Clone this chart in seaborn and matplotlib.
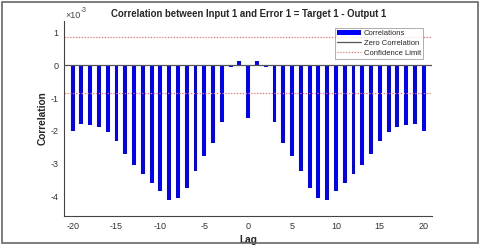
import numpy as np
import pandas as pd
import matplotlib
matplotlib.use("Agg")
import matplotlib.pyplot as plt
import seaborn as sns
from matplotlib.patches import Patch, Rectangle
from matplotlib.lines import Line2D
from matplotlib.ticker import FuncFormatter
from matplotlib.transforms import offset_copy

lags = list(range(-20, 21))
corr_e3 = [-2.00, -1.80, -1.83, -1.90, -2.04, -2.33, -2.72, -3.06, -3.34, -3.59,
           -3.84, -4.12, -4.07, -3.74, -3.24, -2.78, -2.37, -1.72, -0.05, 0.12,
           -1.62,
           0.12, -0.05, -1.72, -2.37, -2.78, -3.24, -3.74, -4.07, -4.12, -3.84,
           -3.59, -3.34, -3.06, -2.72, -2.33, -2.04, -1.90, -1.83, -1.80, -2.00]
corr = [v * 1e-3 for v in corr_e3]
conf_limit = 0.855e-3
title = "Correlation between Input 1 and Error 1 = Target 1 - Output 1"
legend_labels = ["Correlations", "Zero Correlation", "Confidence Limit"]
y_tick_values = [-4, -3, -2, -1, 0, 1]
x_tick_values = [-20, -15, -10, -5, 0, 5, 10, 15, 20]

df = pd.DataFrame({"Lag": lags, "Correlation": corr})

sns.set_theme(style="white")
plt.rcParams['font.family'] = ['Liberation Sans', 'DejaVu Sans']
plt.rcParams['axes.unicode_minus'] = False

fig = plt.figure(figsize=(4.8, 2.46), dpi=100)
ax = fig.add_axes([0.133, 0.122, 0.768, 0.793])

sns.barplot(data=df, x="Lag", y="Correlation", native_scale=True, width=0.45,
            color="#0000ff", saturation=1, ax=ax, linewidth=0, errorbar=None)

conf_color = "#ff7070"
ax.axhline(0, color="#555555", lw=0.9, zorder=3)
ax.axhline(conf_limit, color=conf_color, lw=0.9, ls=(0, (1, 1.3)), zorder=1)
ax.axhline(-conf_limit, color=conf_color, lw=0.9, ls=(0, (1, 1.3)), zorder=1)

ax.set_xlim(-21, 21)
ax.set_ylim(-4.61e-3, 1.36e-3)
ax.set_xticks(x_tick_values)
ax.set_yticks([v * 1e-3 for v in y_tick_values])
ax.yaxis.set_major_formatter(FuncFormatter(lambda v, p: f"{v * 1e3:.0f}"))

# exponent label, drawn with a plain hyphen like the reference
ax.text(0.003, 1.005, "\u00d710", transform=ax.transAxes, fontsize=6.5,
        color="#444444", ha="left", va="bottom")
ax.text(0.047, 1.035, "-3", transform=ax.transAxes, fontsize=4.8,
        color="#444444", ha="left", va="bottom")

for s in ["top", "right"]:
    ax.spines[s].set_visible(False)
for s in ["left", "bottom"]:
    ax.spines[s].set_color("#444444")
    ax.spines[s].set_linewidth(0.8)
ax.tick_params(axis="both", direction="in", length=3, width=0.6, color="#444444",
               labelsize=6.5, labelcolor="#333333", pad=4)

ax.set_title(title, fontsize=6.9, fontweight="bold", pad=3)
ax.set_xlabel("Lag", fontsize=7.3, fontweight="bold", labelpad=3)
ax.set_ylabel("Correlation", fontsize=7.3, fontweight="bold")
ax.yaxis.set_label_coords(-0.045, 0.5)

handles = [Patch(facecolor="#0000ff", edgecolor="none"),
           Line2D([0], [0], color="#555555", lw=0.9),
           Line2D([0], [0], color=conf_color, lw=0.9, ls=(0, (1, 1.3)))]
leg = ax.legend(handles, legend_labels, loc="upper right", fontsize=5.5,
                frameon=True, fancybox=False, edgecolor="#888888",
                handlelength=3.2, handletextpad=0.3, borderpad=0.3,
                labelspacing=0.3, bbox_to_anchor=(0.985, 0.985))
leg.get_frame().set_linewidth(0.6)

fig.patches.append(Rectangle((0.005, 0.012), 0.99, 0.978, transform=fig.transFigure,
                             fill=False, edgecolor="#666666", lw=1.2))

fig.savefig("out.png", dpi=100)
